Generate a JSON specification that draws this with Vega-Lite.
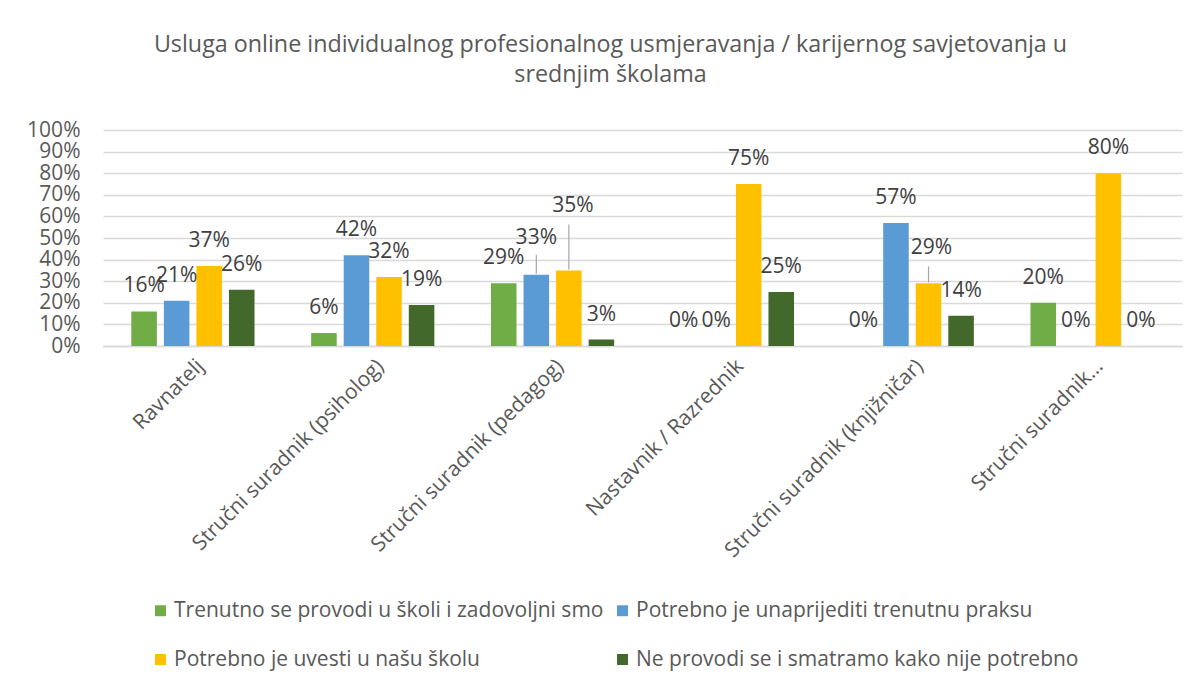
{
  "$schema": "https://vega.github.io/schema/vega-lite/v6.json",
  "width": 1079,
  "height": 216,
  "autosize": {"type": "none"},
  "padding": {"left": 103, "top": 130, "right": 16, "bottom": 338},
  "background": "white",
  "config": {
    "font": "Open Sans",
    "view": {"stroke": null}
  },
  "title": {
    "text": ["Usluga online individualnog profesionalnog usmjeravanja / karijernog savjetovanja u", "srednjim školama"],
    "fontSize": 23.3,
    "fontWeight": "normal",
    "color": "#595959",
    "font": "Open Sans",
    "anchor": "middle",
    "frame": "group",
    "dx": -32,
    "offset": 32,
    "lineHeight": 30
  },
  "data": {
    "values": [
      {"category": "Ravnatelj", "series": "Trenutno se provodi u školi i zadovoljni smo", "value": 0.16},
      {"category": "Ravnatelj", "series": "Potrebno je unaprijediti trenutnu praksu", "value": 0.21},
      {"category": "Ravnatelj", "series": "Potrebno je uvesti u našu školu", "value": 0.37},
      {"category": "Ravnatelj", "series": "Ne provodi se i smatramo kako nije potrebno", "value": 0.26},
      {"category": "Stručni suradnik (psiholog)", "series": "Trenutno se provodi u školi i zadovoljni smo", "value": 0.06},
      {"category": "Stručni suradnik (psiholog)", "series": "Potrebno je unaprijediti trenutnu praksu", "value": 0.42},
      {"category": "Stručni suradnik (psiholog)", "series": "Potrebno je uvesti u našu školu", "value": 0.32},
      {"category": "Stručni suradnik (psiholog)", "series": "Ne provodi se i smatramo kako nije potrebno", "value": 0.19},
      {"category": "Stručni suradnik (pedagog)", "series": "Trenutno se provodi u školi i zadovoljni smo", "value": 0.29},
      {"category": "Stručni suradnik (pedagog)", "series": "Potrebno je unaprijediti trenutnu praksu", "value": 0.33},
      {"category": "Stručni suradnik (pedagog)", "series": "Potrebno je uvesti u našu školu", "value": 0.35},
      {"category": "Stručni suradnik (pedagog)", "series": "Ne provodi se i smatramo kako nije potrebno", "value": 0.03},
      {"category": "Nastavnik / Razrednik", "series": "Trenutno se provodi u školi i zadovoljni smo", "value": 0},
      {"category": "Nastavnik / Razrednik", "series": "Potrebno je unaprijediti trenutnu praksu", "value": 0},
      {"category": "Nastavnik / Razrednik", "series": "Potrebno je uvesti u našu školu", "value": 0.75},
      {"category": "Nastavnik / Razrednik", "series": "Ne provodi se i smatramo kako nije potrebno", "value": 0.25},
      {"category": "Stručni suradnik (knjižničar)", "series": "Trenutno se provodi u školi i zadovoljni smo", "value": 0},
      {"category": "Stručni suradnik (knjižničar)", "series": "Potrebno je unaprijediti trenutnu praksu", "value": 0.57},
      {"category": "Stručni suradnik (knjižničar)", "series": "Potrebno je uvesti u našu školu", "value": 0.29},
      {"category": "Stručni suradnik (knjižničar)", "series": "Ne provodi se i smatramo kako nije potrebno", "value": 0.14},
      {"category": "Stručni suradnik…", "series": "Trenutno se provodi u školi i zadovoljni smo", "value": 0.20},
      {"category": "Stručni suradnik…", "series": "Potrebno je unaprijediti trenutnu praksu", "value": 0},
      {"category": "Stručni suradnik…", "series": "Potrebno je uvesti u našu školu", "value": 0.80},
      {"category": "Stručni suradnik…", "series": "Ne provodi se i smatramo kako nije potrebno", "value": 0}
    ]
  },
  "encoding": {
    "x": {
      "field": "category",
      "type": "nominal",
      "sort": null,
      "scale": {"paddingInner": 0, "paddingOuter": 0},
      "axis": {
        "title": null,
        "labelAngle": -45,
        "labelFontSize": 21,
        "labelColor": "#595959",
        "labelPadding": 9,
        "ticks": false,
        "domain": true,
        "domainColor": "#D9D9D9",
        "domainWidth": 1.5,
        "labelLimit": 400
      }
    },
    "xOffset": {
      "field": "series",
      "type": "nominal",
      "sort": ["Trenutno se provodi u školi i zadovoljni smo", "Potrebno je unaprijediti trenutnu praksu", "Potrebno je uvesti u našu školu", "Ne provodi se i smatramo kako nije potrebno"],
      "scale": {"paddingInner": 0.215, "paddingOuter": 0.87}
    },
    "y": {
      "field": "value",
      "type": "quantitative",
      "scale": {"domain": [0, 1], "nice": false},
      "axis": {
        "title": null,
        "format": ".0%",
        "values": [0, 0.1, 0.2, 0.3, 0.4, 0.5, 0.6, 0.7, 0.8, 0.9, 1],
        "labelFontSize": 21,
        "labelColor": "#595959",
        "labelPadding": 23,
        "ticks": false,
        "domain": false,
        "gridColor": "#D9D9D9",
        "gridWidth": 1.5
      }
    }
  },
  "layer": [
    {
      "mark": {"type": "bar"},
      "encoding": {
        "color": {
          "field": "series",
          "type": "nominal",
          "sort": ["Trenutno se provodi u školi i zadovoljni smo", "Potrebno je unaprijediti trenutnu praksu", "Potrebno je uvesti u našu školu", "Ne provodi se i smatramo kako nije potrebno"],
          "scale": {
            "domain": ["Trenutno se provodi u školi i zadovoljni smo", "Potrebno je unaprijediti trenutnu praksu", "Potrebno je uvesti u našu školu", "Ne provodi se i smatramo kako nije potrebno"],
            "range": ["#70AD47", "#5B9BD5", "#FFC000", "#43682B"]
          },
          "legend": {
            "title": null,
            "orient": "none",
            "legendX": 47,
            "legendY": 470,
            "direction": "horizontal",
            "columns": 2,
            "columnPadding": 8,
            "rowPadding": 27,
            "symbolType": "square",
            "symbolSize": 120,
            "symbolStrokeWidth": 0,
            "labelFontSize": 21,
            "labelColor": "#595959",
            "labelOffset": 3,
            "labelLimit": 600
          }
        }
      }
    },
    {
      "transform": [
        {"filter": "(datum.category == 'Stručni suradnik (pedagog)' && datum.value >= 0.33 && datum.value <= 0.35) || (datum.category == 'Stručni suradnik (knjižničar)' && datum.value == 0.29)"}
      ],
      "mark": {
        "type": "rule",
        "color": "#A6A6A6",
        "strokeWidth": 1.2,
        "yOffset": -1,
        "y2Offset": {"expr": "datum.value == 0.35 ? -46 : (datum.value == 0.33 ? -20 : -17)"}
      },
      "encoding": {
        "y2": {"field": "value"}
      }
    },
    {
      "mark": {
        "type": "text",
        "baseline": "middle",
        "fontSize": 21,
        "color": "#404040",
        "dy": {"expr": "datum.category == 'Stručni suradnik (pedagog)' && datum.value == 0.35 ? -64 : (datum.category == 'Stručni suradnik (pedagog)' && datum.value == 0.33 ? -37 : (datum.category == 'Stručni suradnik (knjižničar)' && datum.value == 0.29 ? -35 : -25))"},
        "dx": {"expr": "datum.category == 'Stručni suradnik (pedagog)' && datum.value == 0.35 ? 4 : (datum.category == 'Stručni suradnik (knjižničar)' && datum.value == 0.29 ? 3 : 0)"}
      },
      "encoding": {
        "text": {"field": "value", "type": "quantitative", "format": ".0%"}
      }
    }
  ]
}
